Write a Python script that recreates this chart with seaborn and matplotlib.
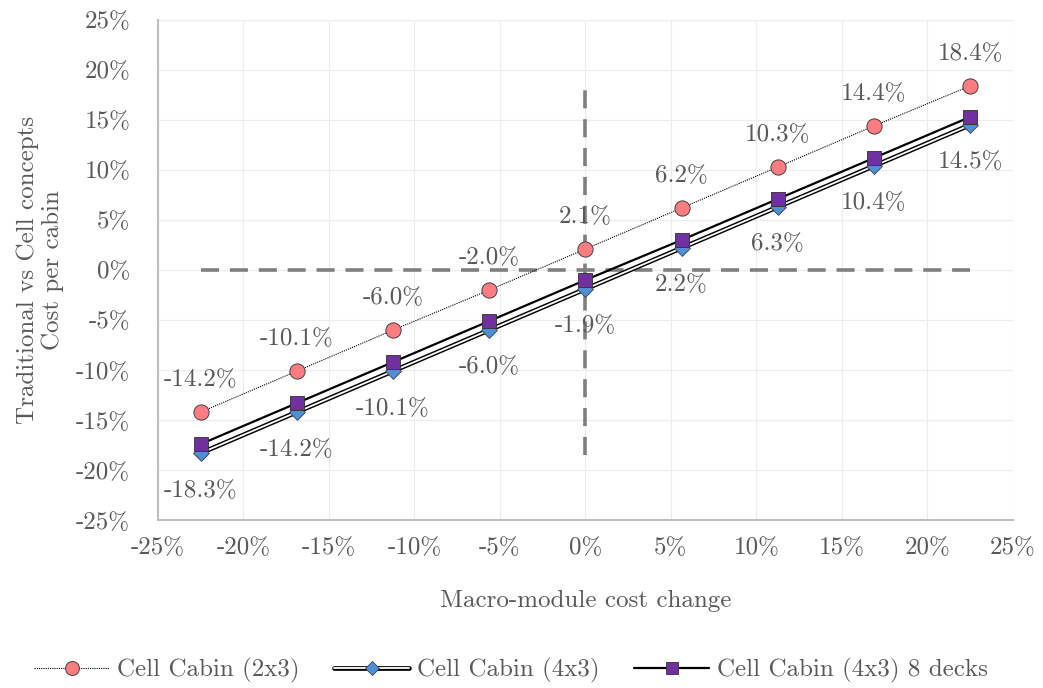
import matplotlib
matplotlib.use("Agg")
import matplotlib.pyplot as plt
import pandas as pd
import seaborn as sns
from matplotlib.lines import Line2D
from matplotlib.legend_handler import HandlerTuple
from matplotlib.ticker import FuncFormatter, MultipleLocator

# macro-module cost change (%)
X_CHANGE = [-22.5, -16.875, -11.25, -5.625, 0.0, 5.625, 11.25, 16.875, 22.5]

# cost per cabin change (%) for each concept
CELL_2X3 = [-14.2, -10.1, -6.0, -2.0, 2.1, 6.2, 10.3, 14.4, 18.4]
CELL_4X3 = [-18.3, -14.2, -10.1, -6.0, -1.9, 2.2, 6.3, 10.4, 14.5]
CELL_4X3_8D = [-17.4, -13.3, -9.2, -5.1, -1.0, 3.0, 7.1, 11.2, 15.3]

SERIES_NAMES = ["Cell Cabin (2x3)", "Cell Cabin (4x3)", "Cell Cabin (4x3) 8 decks"]

# reference cross at 0
HREF_X = [-22.5, 22.5]
HREF_Y = [0, 0]
VREF_X = [0, 0]
VREF_Y = [-18.5, 18.5]

GREY_TXT = "#595959"
FS = 18

sns.set_theme(style="white")
plt.rcParams["font.family"] = ["cmr10", "DejaVu Serif"]
plt.rcParams["axes.formatter.use_mathtext"] = True
plt.rcParams["mathtext.fontset"] = "cm"

df = pd.DataFrame({"x": X_CHANGE, "a": CELL_2X3, "b": CELL_4X3, "c": CELL_4X3_8D})

fig = plt.figure(figsize=(10.43, 6.88), dpi=100)
ax = fig.add_axes([0.1515, 0.244, 0.8195, 0.727])

# dashed reference lines
ax.plot(HREF_X, HREF_Y, color="#7f7f7f", lw=2.6, ls=(0, (5, 3)), zorder=1)
ax.plot(VREF_X, VREF_Y, color="#7f7f7f", lw=2.6, ls=(0, (5, 3)), zorder=1)

# Cell Cabin (2x3): dotted line, salmon circles
sns.lineplot(data=df, x="x", y="a", ax=ax, color="black", lw=0.8,
             linestyle=(0, (1, 1)), zorder=2)
sns.scatterplot(data=df, x="x", y="a", ax=ax, marker="o", s=120,
                color="#FF7C80", edgecolor="#404040", linewidth=0.7, zorder=4)

# Cell Cabin (4x3): double line, blue diamonds
sns.lineplot(data=df, x="x", y="b", ax=ax, color="black", lw=3.4, zorder=2)
sns.lineplot(data=df, x="x", y="b", ax=ax, color="white", lw=1.3, zorder=2)
sns.scatterplot(data=df, x="x", y="b", ax=ax, marker="D", s=65,
                color="#4F8FD6", edgecolor="#404040", linewidth=0.6, zorder=4)

# Cell Cabin (4x3) 8 decks: solid line, purple squares
sns.lineplot(data=df, x="x", y="c", ax=ax, color="black", lw=1.6, zorder=2)
sns.scatterplot(data=df, x="x", y="c", ax=ax, marker="s", s=95,
                color="#7030A0", edgecolor="#303030", linewidth=0.6, zorder=4)

# data labels
for xv, yv in zip(X_CHANGE, CELL_2X3):
    ax.annotate(f"{yv:.1f}%", (xv, yv), xytext=(0, 23), textcoords="offset points",
                ha="center", va="center", fontsize=FS, color=GREY_TXT, zorder=3)
for xv, yv in zip(X_CHANGE, CELL_4X3):
    ax.annotate(f"{yv:.1f}%", (xv, yv), xytext=(0, -27), textcoords="offset points",
                ha="center", va="center", fontsize=FS, color=GREY_TXT, zorder=3)

ax.set_xlim(-25, 25)
ax.set_ylim(-25, 25)
ax.xaxis.set_major_locator(MultipleLocator(5))
ax.yaxis.set_major_locator(MultipleLocator(5))
pct = FuncFormatter(lambda v, _: f"{v:.0f}%")
ax.xaxis.set_major_formatter(pct)
ax.yaxis.set_major_formatter(pct)
ax.tick_params(axis="y", length=0, labelsize=FS, labelcolor=GREY_TXT, pad=20)
ax.tick_params(axis="x", length=0, labelsize=FS, labelcolor=GREY_TXT, pad=12)
ax.grid(True, color="#ececec", lw=0.8)
ax.set_axisbelow(True)

for side in ["top", "right"]:
    ax.spines[side].set_visible(False)
for side in ["left", "bottom"]:
    ax.spines[side].set_color("#bfbfbf")
    ax.spines[side].set_linewidth(1.5)

ax.set_xlabel("Macro-module cost change", fontsize=FS, color=GREY_TXT, labelpad=22)
ax.set_ylabel("Traditional vs Cell concepts\nCost per cabin", fontsize=FS,
              color=GREY_TXT, labelpad=9, linespacing=1.1)

# legend with custom handles
h1 = Line2D([], [], color="black", lw=0.8, ls=(0, (1, 1)), marker="o", ms=10,
            mfc="#FF7C80", mec="#404040", mew=0.7)
h2 = (Line2D([], [], color="black", lw=3.4),
      Line2D([], [], color="white", lw=1.3),
      Line2D([], [], ls="none", marker="D", ms=7.5, mfc="#4F8FD6", mec="#404040", mew=0.6))
h3 = Line2D([], [], color="black", lw=1.6, marker="s", ms=9,
            mfc="#7030A0", mec="#303030", mew=0.6)
leg = fig.legend([h1, h2, h3], SERIES_NAMES, loc="center", bbox_to_anchor=(0.49, 0.025),
                 ncol=3, frameon=False, fontsize=FS, handlelength=3.0,
                 columnspacing=1.4, handletextpad=0.3,
                 handler_map={tuple: HandlerTuple(ndivide=1, pad=0)})
for t in leg.get_texts():
    t.set_color(GREY_TXT)

fig.savefig("out.png", dpi=100)
